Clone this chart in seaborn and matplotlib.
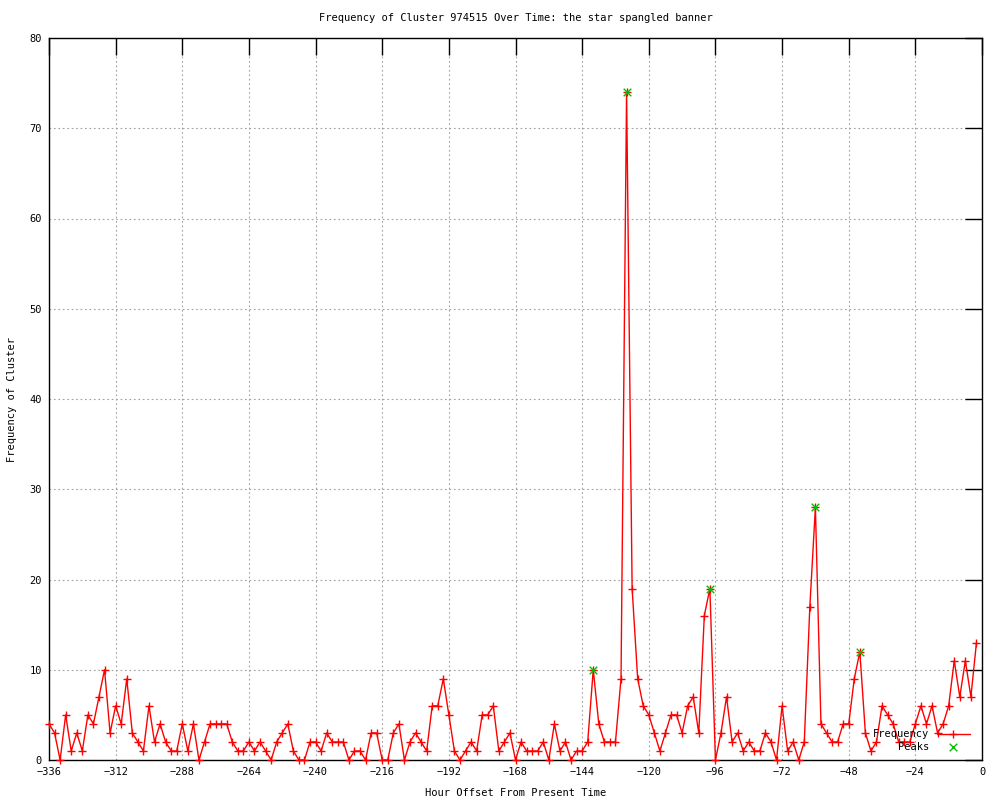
import numpy as np
import pandas as pd
import seaborn as sns
import matplotlib
matplotlib.use("Agg")
import matplotlib.pyplot as plt

# hourly grid (every 2 hours, oldest first)
hours = np.arange(-336, 0, 2)
freq = [4, 3, 0, 5, 1, 3, 1, 5, 4, 7, 10, 3, 6, 4, 9, 3, 2, 1, 6, 2, 4, 2,
        1, 1, 4, 1, 4, 0, 2, 4, 4, 4, 4, 2, 1, 1, 2, 1, 2, 1, 0, 2, 3,
        4, 1, 0, 0, 2, 2, 1, 3, 2, 2, 2, 0, 1, 1, 0, 3, 3, 0, 0, 3, 4, 0,
        2, 3, 2, 1, 6, 6, 9, 5, 1, 0, 1, 2, 1, 5, 5, 6, 1, 2, 3, 0, 2,
        1, 1, 1, 2, 0, 4, 1, 2, 0, 1, 1, 2, 10, 4, 2, 2, 2, 9, 74, 19, 9, 6,
        5, 3, 1, 3, 5, 5, 3, 6, 7, 3, 16, 19, 0, 3, 7, 2, 3, 1, 2, 1, 1, 3,
        2, 0, 6, 1, 2, 0, 2, 17, 28, 4, 3, 2, 2, 4, 4, 9, 12, 3, 1, 2, 6,
        5, 4, 2, 2, 2, 4, 6, 4, 6, 3, 4, 6, 11, 7, 11, 7, 13]

peak_hours = [-140, -128, -98, -60, -44]
peak_values = [10, 74, 19, 28, 12]

x_ticks = np.arange(-336, 1, 24)
y_ticks = np.arange(0, 81, 10)

df = pd.DataFrame({"hour": hours, "freq": freq})
peaks = pd.DataFrame({"hour": peak_hours, "freq": peak_values})

sns.set_style("white")
plt.rcParams['font.family'] = ['DejaVu Sans Mono', 'DejaVu Sans']
plt.rcParams['font.size'] = 7.5
plt.rcParams['text.color'] = 'black'
plt.rcParams['axes.labelcolor'] = 'black'

fig = plt.figure(figsize=(10, 8), dpi=100)
ax = fig.add_axes([0.049, 0.05, 0.933, 0.9025])

sns.lineplot(data=df, x="hour", y="freq", ax=ax, color="red", linewidth=1,
             marker="+", markersize=6, markeredgewidth=1,
             markeredgecolor="red", label="Frequency", clip_on=False, zorder=3)
sns.scatterplot(data=peaks, x="hour", y="freq", ax=ax, marker="x", s=30,
                color="#00c000", linewidth=1, label="    Peaks", zorder=4)

ax.set_xlim(-336, 0)
ax.set_ylim(0, 80)
ax.set_xticks(x_ticks)
ax.set_yticks(y_ticks)
ax.grid(True, linestyle=(0, (1.5, 2.5)), color="#a0a0a0", linewidth=0.8)
ax.set_axisbelow(True)
for s in ax.spines.values():
    s.set_color("black")
    s.set_linewidth(1)
    s.set_visible(True)
ax.tick_params(direction="in", length=12, width=1, top=True, right=True,
               labelsize=7.5, pad=5, colors="black")

ax.set_title("Frequency of Cluster 974515 Over Time: the star spangled banner",
             fontsize=7.5, pad=12, color="black")
ax.set_xlabel("Hour Offset From Present Time", fontsize=7.5, labelpad=8)
ax.set_ylabel("Frequency of Cluster", fontsize=7.5, labelpad=9)

leg = ax.legend(loc="lower right", bbox_to_anchor=(0.987, 0.011),
                markerfirst=False, frameon=False, borderpad=0,
                borderaxespad=0, handlelength=3.2, handletextpad=0.7,
                labelspacing=0.25, fontsize=7.5)

fig.savefig("out.png", dpi=100)
